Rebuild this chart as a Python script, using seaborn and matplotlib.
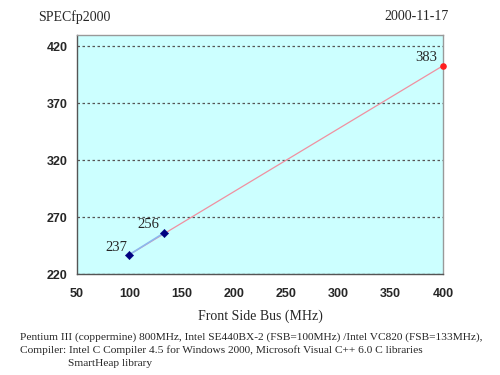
import matplotlib
matplotlib.use("Agg")
import matplotlib.pyplot as plt
import seaborn as sns
import pandas as pd

# data
fsb = [100, 133]
score = [237, 256]
score_labels = ["237", "256"]
fsb_top = [100, 400]
score_top = [237, 403]
top_label = "383"
xticks = [50, 100, 150, 200, 250, 300, 350, 400]
yticks = [220, 270, 320, 370, 420]

df = pd.DataFrame({"fsb": fsb, "score": score})
df_top = pd.DataFrame({"fsb": fsb_top, "score": score_top})

sns.set_style("white")
serif = ["Liberation Serif", "DejaVu Serif"]
sans = ["Liberation Sans", "DejaVu Sans"]

fig = plt.figure(figsize=(5, 3.75), dpi=100)
ax = fig.add_axes([0.154, 0.2693, 0.732, 0.6374])
ax.set_facecolor("#ccffff")

for y in yticks:
    ax.axhline(y, color="#555555", lw=0.9, ls=(0, (2, 2)), zorder=1)

sns.lineplot(data=df_top, x="fsb", y="score", ax=ax, color="#f090a0", lw=0.9, zorder=2)
sns.lineplot(data=df, x="fsb", y="score", ax=ax, color="#8ab8ee", lw=1.2, zorder=3)
sns.scatterplot(data=df, x="fsb", y="score", ax=ax, marker="D", s=18, color="#000080",
                edgecolor="#000080", zorder=4)
ax.scatter([fsb_top[1]], [score_top[1]], s=14, color="#ff2020", zorder=5, clip_on=False)

# label offsets in points (px / 1.39)
for x, y, t, off in zip(fsb, score, score_labels, [(-1.5, 5.0), (-3.0, 6.5)]):
    ax.annotate(t, (x, y), xytext=off, textcoords="offset points", ha="right", va="center",
                fontsize=10.5, family=serif)
ax.annotate(top_label, (fsb_top[1], score_top[1]), xytext=(-4.3, 5.8), textcoords="offset points",
            ha="right", va="center", fontsize=10.5, family=serif)

ax.set_xlim(50, 400)
ax.set_ylim(220, 430)
ax.set_xticks(xticks)
ax.set_yticks(yticks)
ax.set_xticklabels([str(v) for v in xticks], fontsize=9, fontweight="bold", family=sans)
ax.set_yticklabels([str(v) for v in yticks], fontsize=9, fontweight="bold", family=sans)
ax.tick_params(axis="y", length=4, width=0.8, color="#555555", pad=3)
ax.tick_params(axis="x", length=0, pad=10)
ax.set_xlabel("Front Side Bus (MHz)", fontsize=10, family=serif, labelpad=7)
ax.set_ylabel("")
for s in ax.spines.values():
    s.set_color("#999999")
    s.set_linewidth(1.0)
ax.spines["left"].set_color("#555555")
ax.spines["bottom"].set_color("#555555")

fig.text(0.076, 0.955, "SPECfp2000", fontsize=10, family=serif, va="center")
fig.text(0.898, 0.955, "2000-11-17", fontsize=10, family=serif, va="center", ha="right")
fig.text(0.041, 0.102, "Pentium III (coppermine) 800MHz, Intel SE440BX-2 (FSB=100MHz) /Intel VC820 (FSB=133MHz),",
         fontsize=8.2, family=serif, va="center")
fig.text(0.041, 0.067, "Compiler: Intel C Compiler 4.5 for Windows 2000, Microsoft Visual C++ 6.0 C libraries",
         fontsize=8.2, family=serif, va="center")
fig.text(0.137, 0.032, "SmartHeap library", fontsize=8.2, family=serif, va="center")

fig.savefig("out.png", dpi=100, facecolor="white")
